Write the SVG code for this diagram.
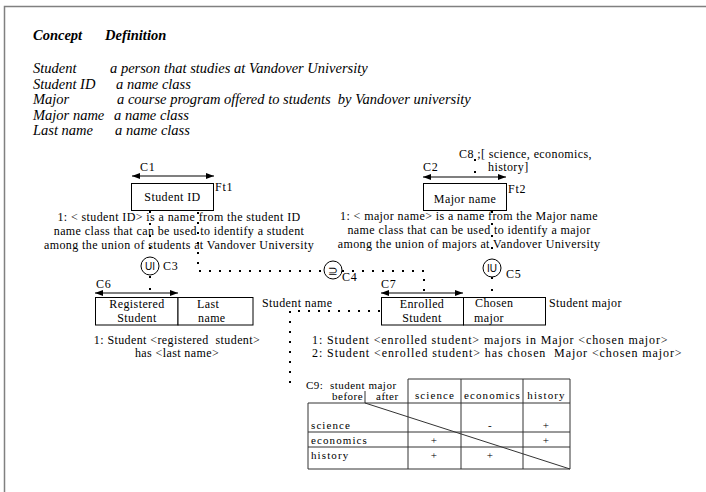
<svg xmlns="http://www.w3.org/2000/svg" width="706" height="492" viewBox="0 0 706 492">
<style>
text{font-family:"Liberation Serif","Times New Roman",serif;fill:#000}
.def{font-size:14.5px;font-style:italic}
.hd{font-size:14.5px;font-style:italic;font-weight:bold}
.t{font-size:12px;letter-spacing:0.4px}
.c{font-size:12px;letter-spacing:0.8px}
.s{font-size:11px;letter-spacing:0.5px}
.w{font-size:11px;letter-spacing:1.1px}
.m{text-anchor:middle}
.box{fill:#fff;stroke:#000;stroke-width:1}
.arr{stroke:#000;stroke-width:1.2;fill:none;marker-start:url(#ah);marker-end:url(#ah)}
.dv{fill:none;stroke:#000;stroke-width:2;stroke-dasharray:2 10}
.dh{fill:none;stroke:#000;stroke-width:2;stroke-dasharray:2 8}
.circ{fill:#fff;stroke:#000;stroke-width:1}
.sym{font-family:"Liberation Sans","DejaVu Sans",sans-serif;font-size:10px;text-anchor:middle}
.tb{stroke:#333;stroke-width:1;fill:none}
</style>
<defs>
<marker id="ah" viewBox="0 0 8 6" refX="8" refY="3" markerWidth="8" markerHeight="6" markerUnits="userSpaceOnUse" orient="auto-start-reverse"><path d="M0,0 L8,3 L0,6 z" fill="#000"/></marker>
</defs>
<path d="M4.5,492 V6.5 H706" stroke="#808080" stroke-width="1.5" fill="none"/>
<g id="definitions">
<text class="hd" x="33" y="40">Concept</text>
<text class="hd" x="105" y="40">Definition</text>
<text class="def" x="33" y="73">Student</text>
<text class="def" x="110" y="73">a person that studies at Vandover University</text>
<text class="def" x="33" y="88.5">Student ID</text>
<text class="def" x="116" y="88.5">a name class</text>
<text class="def" x="33" y="104">Major</text>
<text class="def" x="117" y="104" xml:space="preserve">a course program offered to students  by Vandover university</text>
<text class="def" x="33" y="119.5">Major name</text>
<text class="def" x="114" y="119.5">a name class</text>
<text class="def" x="33" y="135">Last name</text>
<text class="def" x="115" y="135">a name class</text>
</g>
<g id="connectors">
<path class="dv" d="M150,211 V257"/>
<path class="dv" d="M150,276 V297"/>
<path class="dh" d="M198,212 V271 H324"/>
<path class="dh" d="M342,271 H424 V297"/>
<path class="dv" d="M492,211 V259"/>
<path class="dv" d="M492,277 V297"/>
<path class="dv" d="M475,159 V183"/>
<path class="dh" d="M380,311 H290 V384"/>
</g>
<g id="student-id">
<text class="c" x="140" y="171">C1</text>
<path class="arr" d="M132,176 H214"/>
<rect class="box" x="131.5" y="183.5" width="82" height="27"/>
<text class="t m" x="172.5" y="201">Student ID</text>
<text class="c" x="215" y="191">Ft1</text>
<text class="t m" x="179" y="221">1: &lt; student ID&gt; is a name from the student ID</text>
<text class="t m" x="179" y="235">name class that can be used to identify a student</text>
<text class="t m" x="179" y="249">among the union of students at Vandover University</text>
</g>
<g id="major-name">
<text class="t" x="459" y="158">C8 ;[ science, economics,</text>
<text class="t" x="488" y="171">history]</text>
<text class="c" x="423" y="171">C2</text>
<path class="arr" d="M423,177 H506"/>
<rect class="box" x="423.5" y="183.5" width="83" height="27"/>
<text class="t m" x="465" y="203">Major name</text>
<text class="c" x="508" y="193">Ft2</text>
<text class="t m" x="469" y="220">1: &lt; major name&gt; is a name from the Major name</text>
<text class="t m" x="469" y="234">name class that can be used to identify a major</text>
<text class="t m" x="469" y="248">among the union of majors at Vandover University</text>
</g>
<g id="c3">
<circle class="circ" cx="150" cy="266" r="9"/>
<text class="sym" x="150" y="270">UI</text>
<text class="c" x="163" y="270">C3</text>
</g>
<g id="c4">
<circle class="circ" cx="333" cy="270" r="9"/>
<text class="sym" x="333" y="274.5" style="font-family:'DejaVu Sans',sans-serif;font-size:12px">⊇</text>
<text class="c" x="342" y="281">C4</text>
</g>
<g id="c5">
<circle class="circ" cx="492" cy="268" r="9"/>
<text class="sym" x="492" y="272">IU</text>
<text class="c" x="506" y="278">C5</text>
</g>
<g id="student-name">
<text class="c" x="96" y="288">C6</text>
<path class="arr" d="M95,293 H178"/>
<rect class="box" x="95.5" y="297.5" width="82.5" height="27.5"/>
<rect class="box" x="178" y="297.5" width="75" height="27.5"/>
<text class="t m" x="137" y="308">Registered</text>
<text class="t m" x="137" y="322">Student</text>
<text class="t" x="197" y="308">Last</text>
<text class="t" x="198" y="322">name</text>
<text class="t" x="262" y="307">Student name</text>
<text class="t m" x="177" y="344" xml:space="preserve">1: Student &lt;registered  student&gt;</text>
<text class="t m" x="177" y="357">has &lt;last name&gt;</text>
</g>
<g id="student-major">
<text class="c" x="381" y="288">C7</text>
<path class="arr" d="M381,293 H463"/>
<rect class="box" x="381.5" y="297.5" width="82" height="27.5"/>
<rect class="box" x="463.5" y="297.5" width="82" height="27.5"/>
<text class="t m" x="422" y="308">Enrolled</text>
<text class="t m" x="422" y="322">Student</text>
<text class="t" x="475" y="307">Chosen</text>
<text class="t" x="474" y="322">major</text>
<text class="t" x="549" y="307">Student major</text>
<text class="t" x="312" y="344" textLength="356" lengthAdjust="spacing">1: Student &lt;enrolled student&gt; majors in Major &lt;chosen major&gt;</text>
<text class="t" x="312" y="357" textLength="370" lengthAdjust="spacing" xml:space="preserve">2: Student &lt;enrolled student&gt; has chosen  Major &lt;chosen major&gt;</text>
</g>
<g id="c9">
<text class="s" x="306" y="389" xml:space="preserve">C9:  student major</text>
<text class="s" x="332" y="400">before</text>
<text class="s" x="376" y="400">after</text>
<path class="tb" d="M408,379 H570 M408,379 V469 M461,379 V469 M523,379 V469 M570,379 V469 M308,403 H570 M308,403 V469 M308,432 H570 M308,447 H570 M308,469 H570 M365,391 V403"/>
<path class="tb" d="M365,403 L570,469"/>
<text class="w m" x="435" y="399">science</text>
<text class="w m" x="492.5" y="399">economics</text>
<text class="w m" x="546.5" y="399">history</text>
<text class="w" x="311" y="429">science</text>
<text class="w" x="311" y="444">economics</text>
<text class="w" x="311" y="459">history</text>
<text class="s m" x="490" y="429">-</text>
<text class="s m" x="546" y="429">+</text>
<text class="s m" x="434" y="444">+</text>
<text class="s m" x="546" y="444">+</text>
<text class="s m" x="434" y="459">+</text>
<text class="s m" x="490" y="459">+</text>
</g>
</svg>
